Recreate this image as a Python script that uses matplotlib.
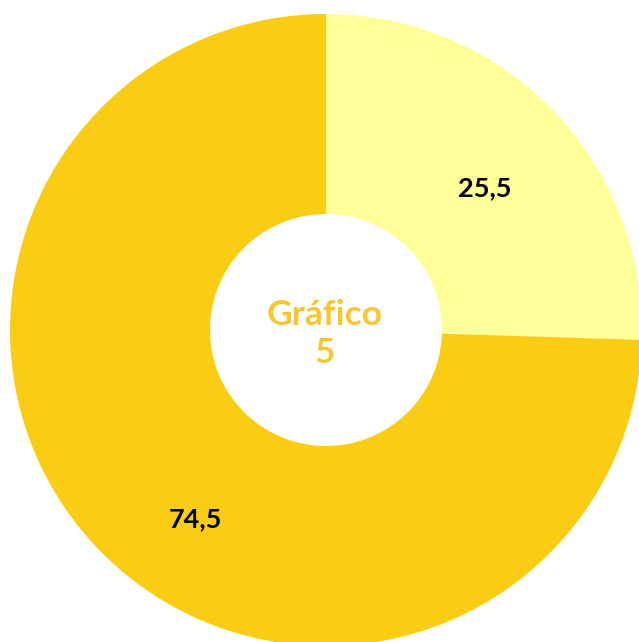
import matplotlib.pyplot as plt

values = [25.5, 74.5]
labels = ["25,5", "74,5"]
colors = ["#FFFF99", "#FBCC14"]
center_title = "Gráfico\n5"

W, H = 639, 642
fig = plt.figure(figsize=(W / 100, H / 100), dpi=100)
ax = fig.add_axes([0, 0, 1, 1])
ax.set_xlim(0, W)
ax.set_ylim(0, H)
ax.set_aspect("equal")
ax.axis("off")

cx, cy = 326, H - 330
R = 316
wedges, _ = ax.pie(values, colors=colors, startangle=90, counterclock=False,
                   center=(cx, cy), radius=R,
                   wedgeprops=dict(width=R - 116, linewidth=0))
ax.set_xlim(0, W)
ax.set_ylim(0, H)

# label positions (offsets from the centre, in pixels)
label_pos = [(159, 142), (-131, -189)]
for lab, (dx, dy) in zip(labels, label_pos):
    ax.text(cx + dx, cy + dy, lab, ha="center", va="center",
            fontsize=19.5, fontweight="bold", family="Lato", color="black")

ax.text(cx - 1, cy - 4, center_title, ha="center", va="center",
        fontsize=25.5, fontweight="bold", family="Lato", color="#F8C72F",
        linespacing=1.25)

fig.savefig("out.png", dpi=100)
